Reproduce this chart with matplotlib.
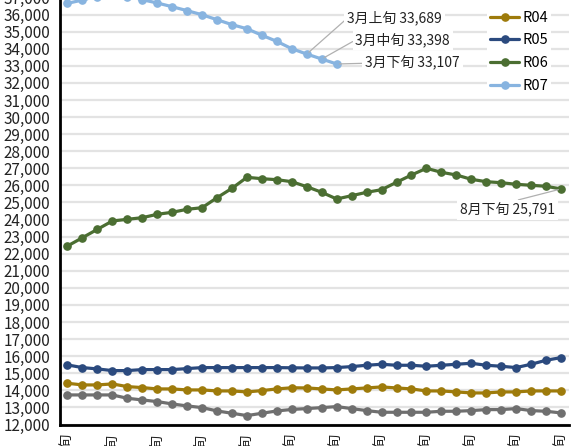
import matplotlib
matplotlib.use("Agg")
import matplotlib.pyplot as plt
from matplotlib.ticker import FuncFormatter, MultipleLocator

plt.rcParams["font.family"] = ["Noto Sans CJK JP", "DejaVu Sans"]

# 34 dekads, 9月下旬 .. 8月下旬
categories = (
    ["9月下旬"]
    + [f"{m}月{d}" for m in (10, 11, 12, 1, 2, 3, 4, 5, 6, 7, 8) for d in ("上旬", "中旬", "下旬")]
)

r03 = [13731, 13731, 13731, 13731, 13536, 13438, 13341, 13204, 13087, 12989,
       12794, 12658, 12521, 12658, 12794, 12880, 12931, 12989, 13048, 12931,
       12814, 12716, 12716, 12716, 12716, 12775, 12775, 12814, 12872, 12872,
       12931, 12814, 12775, 12677]
r04 = [14414, 14317, 14317, 14375, 14219, 14161, 14083, 14083, 14024, 14024,
       13965, 13965, 13907, 13985, 14083, 14150, 14141, 14083, 14024, 14083,
       14141, 14200, 14141, 14083, 13965, 13965, 13907, 13848, 13848, 13907,
       13907, 13965, 13965, 13965]
r05 = [15488, 15332, 15254, 15156, 15156, 15215, 15215, 15215, 15273, 15332,
       15332, 15332, 15332, 15332, 15332, 15320, 15312, 15312, 15332, 15390,
       15468, 15527, 15468, 15468, 15410, 15468, 15527, 15585, 15468, 15410,
       15332, 15527, 15761, 15917]
r06 = [22451, 22937, 23428, 23915, 24014, 24108, 24307, 24424, 24600, 24693,
       25279, 25829, 26473, 26391, 26333, 26216, 25923, 25595, 25203, 25396,
       25595, 25747, 26180, 26608, 27000, 26766, 26608, 26356, 26216, 26157,
       26063, 26005, 25946, 25791]
r07 = [36660, 36850, 37050, 37150, 37050, 36870, 36680, 36460, 36230, 35990,
       35700, 35410, 35170, 34790, 34430, 34000, 33689, 33398, 33107]

series = [("R03", r03, "#6f6f6f"), ("R04", r04, "#9e7b0b"), ("R05", r05, "#2b4a7e"),
          ("R06", r06, "#4b6e32"), ("R07", r07, "#88b4e0")]

W, H = 578, 446
fig = plt.figure(figsize=(W / 100, H / 100), dpi=100)
ax = fig.add_axes([60 / W, 21.5 / H, (568.5 - 60) / W, (424.5 + 2.5) / H])

for name, vals, col in series:
    ax.plot(range(len(vals)), vals, color=col, lw=2.3, marker="o", ms=5.2,
            label=name, solid_capstyle="round", zorder=3)

ax.set_xlim(-0.5, 33.5)
ax.set_ylim(12000, 37000)
ax.yaxis.set_major_locator(MultipleLocator(1000))
ax.yaxis.set_major_formatter(FuncFormatter(lambda v, p: f"{int(v):,}"))
ax.grid(axis="y", color="#e3e3e3", lw=1.6, zorder=0)
ax.set_axisbelow(True)

ax.set_xticks(range(0, len(categories), 3))
ax.set_xticklabels(categories[::3], rotation=90, fontsize=10, color="#222222")
ax.tick_params(axis="x", length=0, pad=6)
ax.tick_params(axis="y", length=0, pad=7, labelsize=11, labelcolor="#222222")

for s in ("top", "right"):
    ax.spines[s].set_visible(False)
for s in ("left", "bottom"):
    ax.spines[s].set_color("black")
    ax.spines[s].set_linewidth(2)

# callouts
box = dict(boxstyle="square,pad=0.2", fc="white", ec="none")
arrow = dict(arrowstyle="-", color="#b0b0b0", lw=0.9, relpos=(0, 0.5), shrinkA=0, shrinkB=2)
callouts = [(16, "3月上旬 33,689", 18.7, 35780),
            (17, "3月中旬 33,398", 19.25, 34510),
            (18, "3月下旬 33,107", 19.9, 33150)]
for i, txt, tx, ty in callouts:
    ax.annotate(txt, xy=(i, r07[i]), xytext=(tx, ty), ha="left", va="center",
                fontsize=10, color="#222222", bbox=box, arrowprops=arrow, zorder=5)

ax.annotate("8月下旬 25,791", xy=(33, r06[33]), xytext=(32.6, 24560), ha="right",
            va="center", fontsize=10, color="#222222", bbox=box, zorder=5,
            arrowprops=dict(arrowstyle="-", color="#b0b0b0", lw=0.9, relpos=(0.5, 1),
                            shrinkA=0, shrinkB=2))

leg = ax.legend(loc="upper left", bbox_to_anchor=(487 / W, 1 - (-15) / H),
                bbox_transform=fig.transFigure, frameon=True, fontsize=10.5,
                handlelength=2.0, handletextpad=0.25, labelspacing=0.6,
                borderpad=0.2, borderaxespad=0)
leg.get_frame().set_facecolor("white")
leg.get_frame().set_edgecolor("none")
leg.get_frame().set_alpha(1)
leg.set_zorder(6)

fig.savefig("out.png", dpi=100)
